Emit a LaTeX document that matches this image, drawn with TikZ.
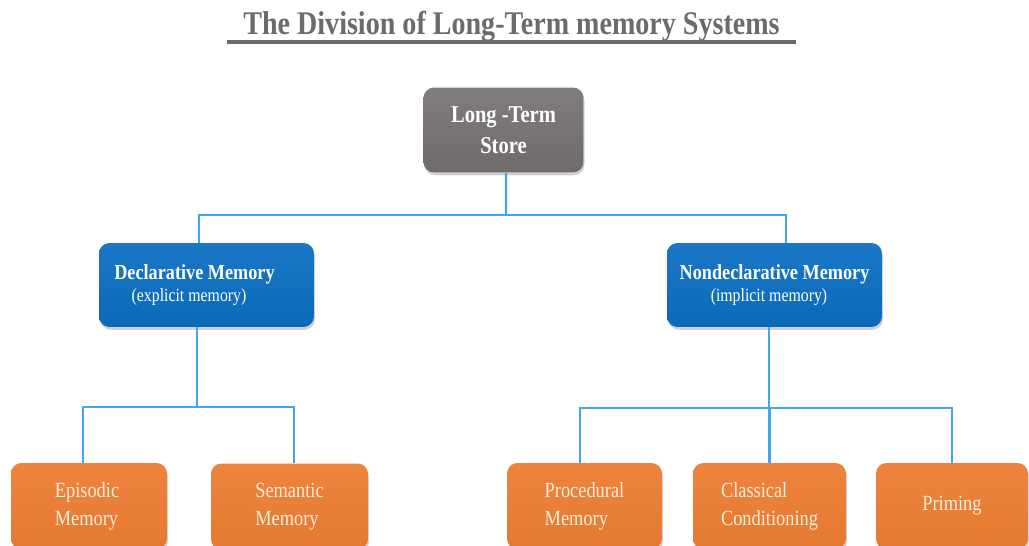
\documentclass[tikz,border=0pt]{standalone}
\usepackage{fontspec}
\setmainfont{Liberation Serif}
\newfontfamily\condfont[FakeStretch=0.85]{Liberation Serif}
\usetikzlibrary{shadows}
\definecolor{titlegray}{HTML}{6B6B6B}
\definecolor{ltsgray}{HTML}{767171}
\definecolor{memblue}{HTML}{0B6FC2}
\definecolor{memorange}{HTML}{EC7D33}
\definecolor{linkblue}{HTML}{41A6EA}
\definecolor{creamtext}{HTML}{FFF0DC}
\newcommand{\memhead}[1]{{\bfseries\fontsize{12.2}{12.5}\selectfont #1}}
\begin{document}
\begin{tikzpicture}[x=0.02cm,y=-0.02cm,
  boxbase/.style={rounded corners=6pt, inner sep=0pt,
    drop shadow={shadow xshift=0.6pt,shadow yshift=-1.6pt,opacity=0.35}},
  graybox/.style={boxbase, top color=ltsgray!92!white, bottom color=ltsgray!95!black,
    text=white, font=\condfont\bfseries\fontsize{13.75}{17.6}\selectfont, align=center,
    minimum width=3.2cm, minimum height=1.7cm},
  bluebox/.style={boxbase, top color=memblue!94!white, bottom color=memblue!95!black,
    text=white, align=center, minimum width=4.3cm, minimum height=1.68cm,
    font=\condfont\fontsize{10.6}{12.5}\selectfont},
  orangebox/.style={boxbase, top color=memorange!95!white, bottom color=memorange!97!black,
    text=creamtext, align=left, minimum height=1.72cm,
    font=\condfont\fontsize{12.3}{15.9}\selectfont},
  conn/.style={draw=linkblue, line width=1.2pt},
  titletext/.style={text=titlegray, font=\condfont\bfseries\fontsize{18.8}{22}\selectfont}
]
\useasboundingbox (0,0) rectangle (1029,546);
\clip (0,0) rectangle (1029,546);
\fill[white] (0,0) rectangle (1029,546);

% title
\node[titletext, anchor=base] (title) at (511.5,34.3) {The Division of Long-Term memory Systems};
\draw[titlegray, line width=2.2pt] (227,42) -- (796,42);

% boxes
\node[graybox] (lts) at (503.5,130) {Long -Term\\Store};
\node[bluebox] (decl) at (206.5,285)
  {\memhead{Declarative Memory}\hspace*{0.48cm}\\(explicit memory)\hspace*{0.7cm}};
\node[bluebox] (nondecl) at (774.5,285)
  {\memhead{Nondeclarative Memory}\\(implicit memory)\hspace*{0.22cm}};

\node[orangebox, minimum width=3.12cm] (epis) at (89,506) {Episodic\\Memory\hspace*{0.1cm}};
\node[orangebox, minimum width=3.14cm] (sem) at (289.5,506.5) {Semantic\\Memory};
\node[orangebox, minimum width=3.1cm] (proc) at (584.5,506) {Procedural\\Memory\hspace*{0.1cm}};
\node[orangebox, minimum width=3.06cm] (class) at (769.5,506) {Classical\\Conditioning};
\node[orangebox, minimum width=3.04cm] (prim) at (952,506) {Priming};

% connectors
\coordinate (j1) at (506,215);
\coordinate (j2) at (197,407);
\coordinate (j3) at (769,408);
\draw[conn] ([xshift=0.05cm]lts.south) -- (j1);
\draw[conn] ([xshift=-0.15cm]decl.north) |- (j1);
\draw[conn] ([xshift=0.23cm]nondecl.north) |- (j1);
\draw[conn] ([xshift=-0.19cm]decl.south) |- (j2);
\draw[conn] ([xshift=-0.12cm]epis.north) |- (j2);
\draw[conn] ([xshift=0.09cm]sem.north) |- (j2);
\draw[conn] ([xshift=-0.11cm]nondecl.south) |- (j3);
\draw[conn] ([xshift=-0.09cm]proc.north) |- (j3);
\draw[conn] (class.north) |- (j3);
\draw[conn] (prim.north) |- (j3);
\end{tikzpicture}
\end{document}
